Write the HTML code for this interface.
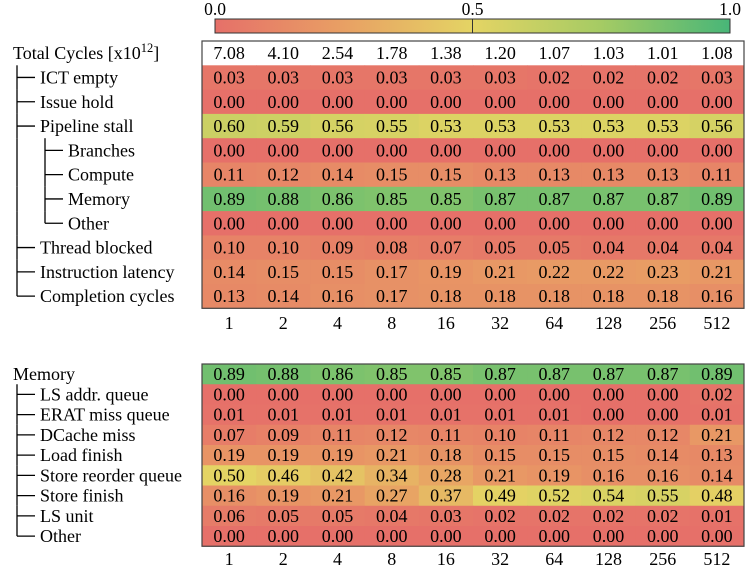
<!DOCTYPE html>
<html><head><meta charset="utf-8"><style>
html,body{margin:0;padding:0;background:#fff}
svg{display:block;font-family:"Liberation Serif",serif}
</style></head><body>
<svg id="chart" width="752" height="578" viewBox="0 0 752 578" xmlns="http://www.w3.org/2000/svg">
<defs>
<linearGradient id="cb" x1="0" x2="1" y1="0" y2="0">
<stop offset="0" stop-color="rgb(230,112,105)"/>
<stop offset="0.25" stop-color="rgb(232,160,100)"/>
<stop offset="0.5" stop-color="rgb(228,212,100)"/>
<stop offset="0.75" stop-color="rgb(165,203,100)"/>
<stop offset="1" stop-color="rgb(72,182,120)"/>
</linearGradient>
</defs>
<g>
<rect x="215" y="19" width="515" height="14" fill="url(#cb)" stroke="#333" stroke-width="1"/>
<line x1="472.5" y1="19" x2="472.5" y2="33" stroke="#333"/>
<text x="215" y="15" font-size="17.5" text-anchor="middle">0.0</text>
<text x="472.5" y="15" font-size="17.5" text-anchor="middle">0.5</text>
<text x="730" y="15" font-size="17.5" text-anchor="middle">1.0</text>
</g>
<g id="g1"></g>
<g id="g2"></g>
</svg>
<script>
const threads = ["1","2","4","8","16","32","64","128","256","512"];
const totalCycles = [7.08,4.10,2.54,1.78,1.38,1.20,1.07,1.03,1.01,1.08];
const rows1 = ["ICT empty","Issue hold","Pipeline stall","Branches","Compute","Memory","Other","Thread blocked","Instruction latency","Completion cycles"];
const depth1 = [1,1,1,2,2,2,2,1,1,1];
const vals1 = [
[0.03,0.03,0.03,0.03,0.03,0.03,0.02,0.02,0.02,0.03],
[0.00,0.00,0.00,0.00,0.00,0.00,0.00,0.00,0.00,0.00],
[0.60,0.59,0.56,0.55,0.53,0.53,0.53,0.53,0.53,0.56],
[0.00,0.00,0.00,0.00,0.00,0.00,0.00,0.00,0.00,0.00],
[0.11,0.12,0.14,0.15,0.15,0.13,0.13,0.13,0.13,0.11],
[0.89,0.88,0.86,0.85,0.85,0.87,0.87,0.87,0.87,0.89],
[0.00,0.00,0.00,0.00,0.00,0.00,0.00,0.00,0.00,0.00],
[0.10,0.10,0.09,0.08,0.07,0.05,0.05,0.04,0.04,0.04],
[0.14,0.15,0.15,0.17,0.19,0.21,0.22,0.22,0.23,0.21],
[0.13,0.14,0.16,0.17,0.18,0.18,0.18,0.18,0.18,0.16]];
const rows2 = ["Memory","LS addr. queue","ERAT miss queue","DCache miss","Load finish","Store reorder queue","Store finish","LS unit","Other"];
const depth2 = [0,1,1,1,1,1,1,1,1];
const vals2 = [
[0.89,0.88,0.86,0.85,0.85,0.87,0.87,0.87,0.87,0.89],
[0.00,0.00,0.00,0.00,0.00,0.00,0.00,0.00,0.00,0.02],
[0.01,0.01,0.01,0.01,0.01,0.01,0.01,0.00,0.00,0.01],
[0.07,0.09,0.11,0.12,0.11,0.10,0.11,0.12,0.12,0.21],
[0.19,0.19,0.19,0.21,0.18,0.15,0.15,0.15,0.14,0.13],
[0.50,0.46,0.42,0.34,0.28,0.21,0.19,0.16,0.16,0.14],
[0.16,0.19,0.21,0.27,0.37,0.49,0.52,0.54,0.55,0.48],
[0.06,0.05,0.05,0.04,0.03,0.02,0.02,0.02,0.02,0.01],
[0.00,0.00,0.00,0.00,0.00,0.00,0.00,0.00,0.00,0.00]];

const NS="http://www.w3.org/2000/svg";
const FS=18;
const stops=[[0,230,112,105],[0.25,232,160,100],[0.5,228,212,100],[0.75,165,203,100],[1,72,182,120]];
function cmap(v){v=Math.max(0,Math.min(1,v));for(let i=1;i<stops.length;i++){if(v<=stops[i][0]){const a=stops[i-1],b=stops[i],t=(v-a[0])/(b[0]-a[0]);return `rgb(${Math.round(a[1]+t*(b[1]-a[1]))},${Math.round(a[2]+t*(b[2]-a[2]))},${Math.round(a[3]+t*(b[3]-a[3]))})`;}}return "rgb(72,182,120)";}
function el(p,tag,at,txt){const e=document.createElementNS(NS,tag);for(const k in at)e.setAttribute(k,at[k]);if(txt!==undefined)e.textContent=txt;p.appendChild(e);return e;}
const X0=202,X1=744,cw=(X1-X0)/threads.length;
function xs(i){return X0+i*cw;}
function tree(g,depths,i,y,rh){
  const d=depths[i];
  const next=depths.slice(i+1);
  const moreAt1=next.some(x=>x===1);
  const moreAt2=(()=>{for(const x of next){if(x===1)return false;if(x===2)return true;}return false;})();
  const cy=y+rh/2;
  if(d===1){
    el(g,"line",{x1:17,y1:y,x2:17,y2:moreAt1?y+rh:cy,stroke:"#000","stroke-width":1.3});
    el(g,"line",{x1:17,y1:cy,x2:35,y2:cy,stroke:"#000","stroke-width":1.3});
  } else if(d===2){
    if(moreAt1)el(g,"line",{x1:17,y1:y,x2:17,y2:y+rh,stroke:"#000","stroke-width":1.3});
    el(g,"line",{x1:45,y1:y,x2:45,y2:moreAt2?y+rh:cy,stroke:"#000","stroke-width":1.3});
    el(g,"line",{x1:45,y1:cy,x2:63,y2:cy,stroke:"#000","stroke-width":1.3});
  }
}
function labelX(d){return d===0?13:d===1?40:68;}
const g1=document.getElementById("g1");
const T1=41,rh1=24.3;
let t=el(g1,"rect",{x:X0,y:T1,width:X1-X0,height:rh1,fill:"#fff"});


t=el(g1,"text",{x:13,y:T1+rh1/2+6,"font-size":FS});


t.innerHTML='Total Cycles [x10<tspan dy="-7" font-size="12.5">12</tspan><tspan dy="7">]</tspan>';
totalCycles.forEach((v,j)=>{const e=el(g1,"text",{x:xs(j)+cw/2,y:T1+rh1/2+6,"font-size":FS,"text-anchor":"middle"},v.toFixed(2));

});
rows1.forEach((r,i)=>{
  const y=T1+rh1*(i+1);
  vals1[i].forEach((v,j)=>{
    const c=el(g1,"rect",{x:xs(j),y:y,width:cw+0.5,height:rh1+0.5,fill:cmap(v)});
    
    
    const tx=el(g1,"text",{x:xs(j)+cw/2,y:y+rh1/2+6,"font-size":FS,"text-anchor":"middle"},v.toFixed(2));
    
    
  });
  tree(g1,depth1,i,y,rh1);
  const l=el(g1,"text",{x:labelX(depth1[i]),y:y+rh1/2+6,"font-size":FS},r);
  
  
});
el(g1,"rect",{x:X0,y:T1,width:X1-X0,height:rh1*11,fill:"none",stroke:"#444","stroke-width":1.2});
threads.forEach((s,j)=>{const e=el(g1,"text",{x:xs(j)+cw/2,y:329,"font-size":FS,"text-anchor":"middle"},s);

});
const g2=document.getElementById("g2");
const T2=364,rh2=20.25;
rows2.forEach((r,i)=>{
  const y=T2+rh2*i;
  vals2[i].forEach((v,j)=>{
    const c=el(g2,"rect",{x:xs(j),y:y,width:cw+0.5,height:rh2+0.5,fill:cmap(v)});
    
    
    const tx=el(g2,"text",{x:xs(j)+cw/2,y:y+rh2/2+6,"font-size":FS,"text-anchor":"middle"},v.toFixed(2));
    
    
  });
  tree(g2,depth2,i,y,rh2);
  const l=el(g2,"text",{x:labelX(depth2[i]),y:y+rh2/2+6,"font-size":FS},r);
  
  
});
el(g2,"rect",{x:X0,y:T2,width:X1-X0,height:rh2*9,fill:"none",stroke:"#444","stroke-width":1.2});
threads.forEach((s,j)=>{const e=el(g2,"text",{x:xs(j)+cw/2,y:565,"font-size":FS,"text-anchor":"middle"},s);

});
</script>
</body></html>
